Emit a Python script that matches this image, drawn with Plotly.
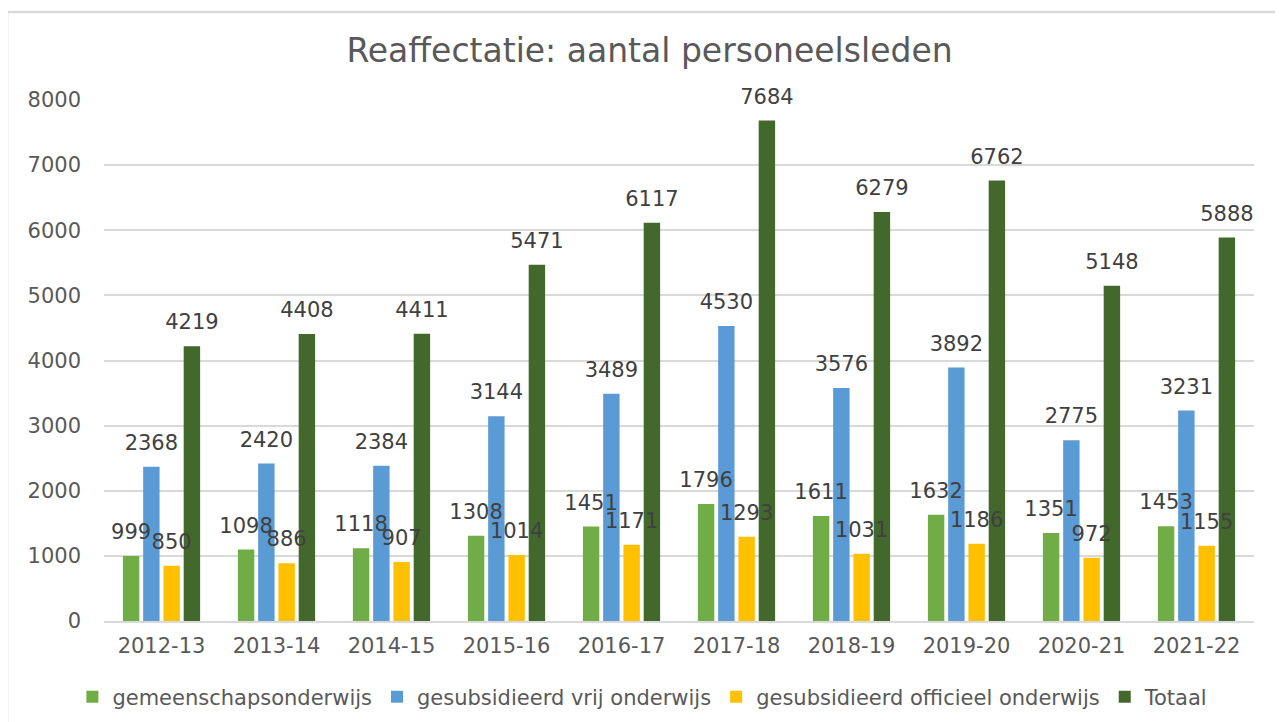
import plotly.graph_objects as go

years = ["2012-13", "2013-14", "2014-15", "2015-16", "2016-17",
         "2017-18", "2018-19", "2019-20", "2020-21", "2021-22"]
gemeenschap = [999, 1098, 1118, 1308, 1451, 1796, 1611, 1632, 1351, 1453]
vrij = [2368, 2420, 2384, 3144, 3489, 4530, 3576, 3892, 2775, 3231]
officieel = [850, 886, 907, 1014, 1171, 1293, 1031, 1186, 972, 1155]
totaal = [4219, 4408, 4411, 5471, 6117, 7684, 6279, 6762, 5148, 5888]

series_names = ["gemeenschapsonderwijs", "gesubsidieerd vrij onderwijs",
                "gesubsidieerd officieel onderwijs", "Totaal"]
series_values = [gemeenschap, vrij, officieel, totaal]
colors = ["#70AD47", "#5B9BD5", "#FFC000", "#43682B"]

FONT = "DejaVu Sans"
TXT = "#595959"

fig = go.Figure()
for name, vals, col in zip(series_names, series_values, colors):
    fig.add_trace(go.Bar(x=years, y=vals, name=name, marker_color=col,
                         marker_line_width=0))
for name, vals in zip(series_names, series_values):
    fig.add_trace(go.Scatter(x=years, y=vals, mode="markers+text",
                             text=[str(v) for v in vals],
                             textposition="top center",
                             textfont=dict(family=FONT, size=21, color="#404040"),
                             marker=dict(size=17, color="rgba(0,0,0,0)"),
                             showlegend=False, hoverinfo="skip", cliponaxis=False))

fig.update_layout(
    width=1283, height=722,
    paper_bgcolor="white", plot_bgcolor="white",
    margin=dict(l=96, r=37, t=92, b=109),
    barmode="group", bargap=0.295, bargroupgap=0.19,
    scattermode="group", scattergap=0.295,
    title=dict(text="Reaffectatie: aantal personeelsleden",
               font=dict(family=FONT, size=33, color=TXT),
               x=0.5, xanchor="center", xref="container",
               y=0.941, yanchor="middle", yref="container"),
    font=dict(family=FONT, color=TXT),
    legend=dict(orientation="h", x=0.4686, xanchor="center",
                y=-0.146, yanchor="middle",
                font=dict(family=FONT, size=21, color=TXT),
                itemwidth=30, traceorder="normal"),
    xaxis=dict(showgrid=False, showline=True, linecolor="#d9d9d9", linewidth=1.5,
               ticks="", tickfont=dict(family=FONT, size=21, color=TXT),
               ticklabelstandoff=5),
    yaxis=dict(range=[0, 8000], dtick=1000, showgrid=True, gridcolor="#d9d9d9",
               gridwidth=1.5, zeroline=False, showline=False, ticks="",
               tickfont=dict(family=FONT, size=21, color=TXT),
               ticklabelstandoff=22),
    shapes=[dict(type="rect", xref="paper", yref="paper",
                 x0=-0.0843, x1=1.0226, y0=-0.2, y1=1.169,
                 line=dict(color="#d9d9d9", width=2.5), layer="below")],
)

fig.write_html("out.html")
